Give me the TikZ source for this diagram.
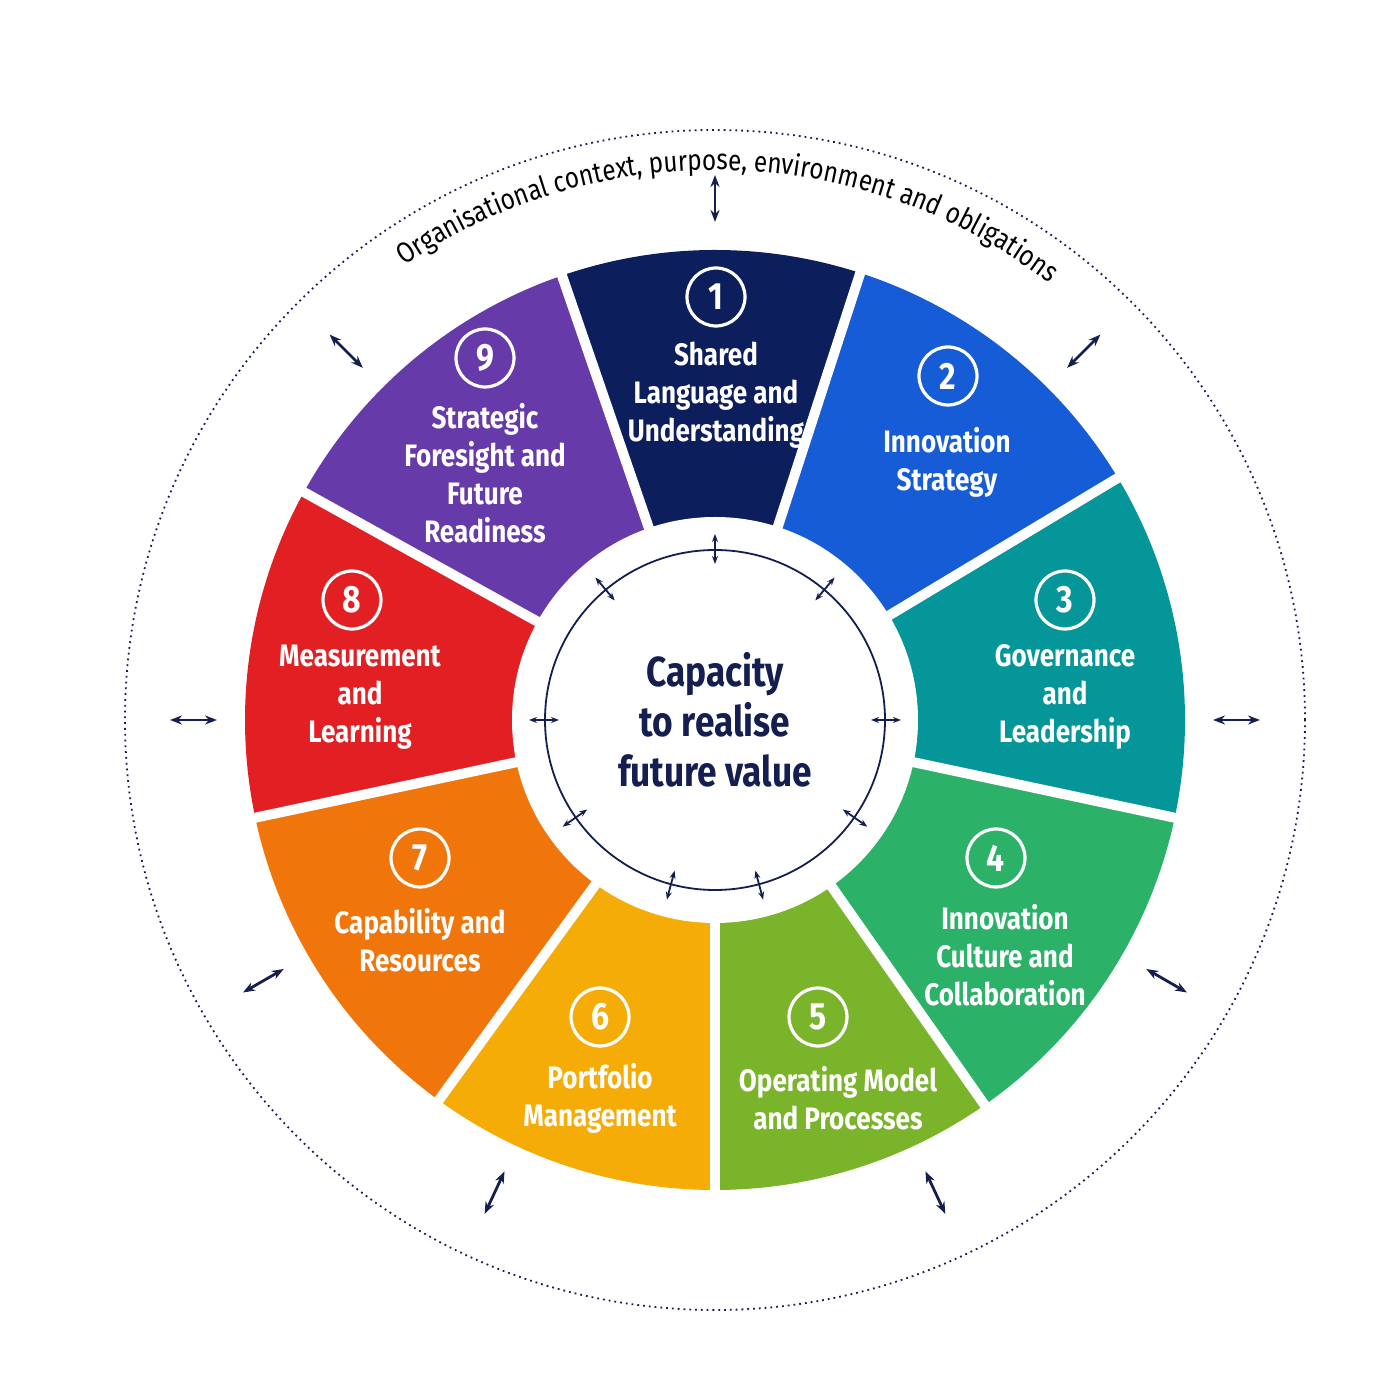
\documentclass[tikz,border=0pt]{standalone}
\usepackage{fontspec}
\setmainfont[FakeStretch=0.84]{Fira Sans}
\usetikzlibrary{
    positioning,
    arrows.meta,
    decorations.text
}
\definecolor{SegA}{RGB}{12,30,92}
\definecolor{SegB}{RGB}{22,92,214}
\definecolor{SegC}{RGB}{4,150,152}
\definecolor{SegD}{RGB}{44,178,104}
\definecolor{SegE}{RGB}{122,180,42}
\definecolor{SegF}{RGB}{246,172,6}
\definecolor{SegG}{RGB}{240,118,12}
\definecolor{SegH}{RGB}{226,32,36}
\definecolor{SegI}{RGB}{102,58,168}
\definecolor{Ink}{RGB}{20,30,80}

\begin{document}
\begin{tikzpicture}[
            x=0.5pt, y=0.5pt,
            seglabel/.style={text=white, font=\fontsize{15.5}{19}\selectfont\bfseries, align=center, inner sep=0pt},
            segnum/.style={circle, draw=white, line width=1.6pt, text=white, minimum size=29pt, inner sep=0pt, font=\fontsize{19}{19}\selectfont\bfseries},
            outarrow/.style={Ink, line width=1.4pt, {Stealth[length=6pt]}-{Stealth[length=6pt]}},
            inarrow/.style={Ink, line width=0.9pt, {Stealth[length=4pt]}-{Stealth[length=4pt]}},
        ]
          \useasboundingbox (-715,-680) rectangle (685,720);

          % Outer dotted ring
          \draw[Ink, dotted, line width=0.9pt] (0,0) circle (590);
          \path[decorate, decoration={text along path, text align=center,
              text={|\fontsize{14.5}{14.5}\selectfont|Organisational context, purpose, environment and obligations}}]
            (133:550) arc (133:44:550);

          % Wheel segments (from/to angles)
          \foreach \from/\to/\col in {72/109/SegA, 31/72/SegB, -12/31/SegC, -55/-12/SegD, -90/-55/SegE,
                                      -126/-90/SegF, -168/-126/SegG, -209/-168/SegH, -251/-209/SegI} {
            \fill[\col] (\from:200) -- (\from:470) arc (\from:\to:470) -- (\to:200) arc (\to:\from:200) -- cycle;
          }
          \foreach \b in {109,72,31,-12,-55,-90,-126,-168,151}
            \draw[white, line width=5pt] (\b:190) -- (\b:480);
          \fill[white] (0,0) circle (203);

          % Centre
          \draw[Ink, line width=0.9pt] (0,0) circle (170);
          \node[Ink, font=\fontsize{21}{25}\selectfont\bfseries, align=center] (core) at (0,0) {Capacity\\to realise\\future value};

          % Labels
          \node[seglabel] (lab1) at (1,325) {Shared\\Language and\\Understanding};
          \node[segnum] (num1) at (1,423) {1};
          \node[seglabel] (lab2) at (232,258) {Innovation\\Strategy};
          \node[segnum] (num2) at (233,344) {2};
          \node[seglabel] (lab3) at (350,23) {Governance\\and\\Leadership};
          \node[segnum] (num3) at (350,120) {3};
          \node[seglabel] (lab4) at (290,-235) {Innovation\\Culture and\\Collaboration};
          \node[segnum] (num4) at (281,-138) {4};
          \node[seglabel] (lab5) at (123,-378) {Operating Model\\and Processes};
          \node[segnum] (num5) at (103,-297) {5};
          \node[seglabel] (lab6) at (-115,-378) {Portfolio\\Management};
          \node[segnum] (num6) at (-115,-297) {6};
          \node[seglabel] (lab7) at (-295,-220) {Capability and\\Resources};
          \node[segnum] (num7) at (-295,-138) {7};
          \node[seglabel] (lab8) at (-355,23) {Measurement\\and\\Learning};
          \node[segnum] (num8) at (-363,120) {8};
          \node[seglabel] (lab9) at (-230,247) {Strategic\\Foresight and\\Future\\Readiness};
          \node[segnum] (num9) at (-230,362) {9};

          % Outer arrows
          \foreach \a in {90,45,0,-30,-65,-115,-150,180,135}
            \draw[outarrow] (\a:498) -- (\a:545);

          % Inner arrows
          \foreach \a in {90,50,130,180,0,-35,-145,-105,-75}
            \draw[inarrow] (\a:156) -- (\a:186);
        \end{tikzpicture}
\end{document}
